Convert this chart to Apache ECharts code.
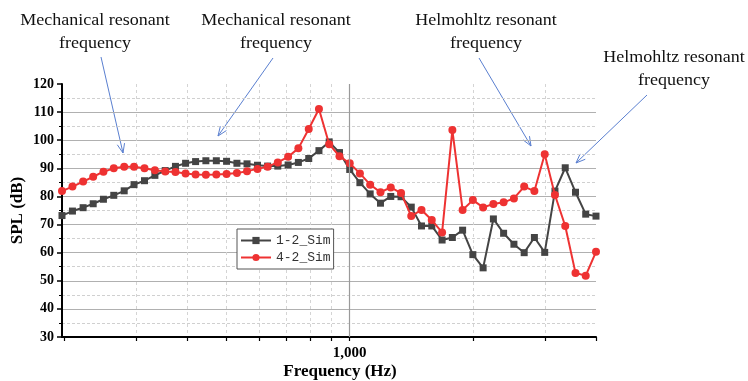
<!DOCTYPE html>
<html><head><meta charset="utf-8">
<script src="https://cdn.jsdelivr.net/npm/echarts@6/dist/echarts.min.js"></script>
<style>html,body{margin:0;padding:0;background:#fff}#c{width:748px;height:381px}</style>
</head><body><div id="c"></div>
<script>
// Frequencies (Hz), 1/12-octave points
const freqs = [198,210,223,236,250,265,281,297,315,334,354,375,397,420,445,472,500,530,561,595,
  630,667,707,749,794,841,891,944,1000,1059,1122,1189,1260,1335,1414,1498,1587,1682,1782,1888,
  2000,2119,2245,2378,2520,2670,2828,2997,3175,3364,3564,3775,4000];
// SPL (dB) of 1-2_Sim
const sim12 = [73.2,74.8,76.0,77.4,79.0,80.4,82.0,84.2,85.6,87.5,89.2,90.7,91.8,92.4,92.7,92.7,92.5,91.8,91.6,91.1,
  90.8,90.8,91.2,92.1,93.5,96.3,99.4,95.6,89.6,84.9,80.9,77.6,80.0,79.9,76.2,69.5,69.5,64.5,65.4,68.0,
  59.3,54.6,72.0,66.9,63.0,60.0,65.4,60.1,81.9,90.2,81.5,73.7,73.0];
// SPL (dB) of 4-2_Sim
const sim42 = [81.9,83.5,85.3,87.0,88.8,90.0,90.6,90.6,90.0,89.3,88.9,88.7,88.2,87.8,87.7,87.8,88.0,88.3,89.0,89.8,
  90.6,92.1,94.1,97.1,104.0,111.1,98.6,94.3,91.8,88.2,84.2,81.5,83.2,81.2,73.0,75.2,71.6,67.2,103.6,75.2,
  78.7,76.1,77.3,77.9,79.3,83.5,81.9,95.0,80.5,69.5,52.8,51.8,60.3];
const seriesNames = ['1-2_Sim','4-2_Sim'];
const xTickValues = [200,300,400,500,600,700,800,900,1000,2000,3000,4000];
const xLabelValues = [1000];
const yMin = 30, yMax = 120, yStep = 10;

const annotations = [
  {lines:['Mechanical resonant','frequency'], cx:95, y:21, from:[101,57], to:[123,153]},
  {lines:['Mechanical resonant','frequency'], cx:276, y:21, from:[273,58], to:[218,136]},
  {lines:['Helmohltz resonant','frequency'], cx:486, y:21, from:[479,58], to:[531,146]},
  {lines:['Helmohltz resonant','frequency'], cx:674, y:58, from:[647,95], to:[576,163]}
];

function thousands(v){ return String(Math.round(v)).replace(/\B(?=(\d{3})+(?!\d))/g, ','); }

const graphics = [];
const arrowColor = '#5a7fd0';
annotations.forEach(a => {
  a.lines.forEach((t, i) => {
    graphics.push({type:'text', x:a.cx, y:a.y + i*23, scaleX:1.06, silent:true,
      style:{text:t, font:'17px "Liberation Serif"', fill:'#111', textAlign:'center', textVerticalAlign:'middle'}});
  });
  const [x1,y1] = a.from, [x2,y2] = a.to;
  graphics.push({type:'line', silent:true, shape:{x1,y1,x2,y2}, style:{stroke:arrowColor, lineWidth:1}});
  const ang = Math.atan2(y2-y1, x2-x1), L = 10, w = 0.38;
  graphics.push({type:'polyline', silent:true,
    shape:{points:[[x2 - L*Math.cos(ang-w), y2 - L*Math.sin(ang-w)],[x2,y2],[x2 - L*Math.cos(ang+w), y2 - L*Math.sin(ang+w)]]},
    style:{stroke:arrowColor, lineWidth:1, fill:null}});
});

const serif = '"Liberation Serif","Times New Roman",serif';
const chart = echarts.init(document.getElementById('c'), null, {renderer:'canvas'});
chart.setOption({
  animation:false,
  backgroundColor:'#fff',
  grid:{left:62, right:152, top:84, bottom:44, containLabel:false, outerBoundsMode:'none'},
  legend:{
    data:seriesNames, orient:'vertical', left:237, top:229,
    padding:[5,3,5,3], itemGap:4, itemWidth:30, itemHeight:9,
    borderColor:'#555', borderWidth:1, backgroundColor:'#fff',
    textStyle:{fontFamily:'"Liberation Mono",monospace', fontSize:13, color:'#333'}
  },
  xAxis:{
    type:'log', logBase:10, min:198, max:4000,
    axisLine:{show:true, onZero:false, lineStyle:{color:'#000', width:2}},
    axisTick:{show:true, customValues:xTickValues, length:4, lineStyle:{color:'#000', width:1.2}},
    axisLabel:{customValues:xLabelValues, formatter:v=>thousands(v), fontFamily:serif, fontWeight:'bold', fontSize:15, color:'#000', margin:9},
    splitLine:{show:true, showMinLine:false, showMaxLine:false, lineStyle:{color:'#d4d4d4', type:[3,3], width:1}},
    name:'Frequency (Hz)', nameLocation:'middle', nameGap:26, nameMoveOverlap:false,
    nameTextStyle:{fontFamily:serif, fontWeight:'bold', fontSize:17, color:'#000', padding:[0,0,0,22]}
  },
  yAxis:{
    type:'value', min:yMin, max:yMax, interval:yStep,
    axisLine:{show:true, lineStyle:{color:'#000', width:2}},
    axisTick:{show:true, length:5, lineStyle:{color:'#000', width:1.5}},
    minorTick:{show:true, splitNumber:2, length:3, lineStyle:{color:'#000', width:1}},
    splitLine:{show:true, showMinLine:false, showMaxLine:false, lineStyle:{color:'#b0b0b0', width:1}},
    minorSplitLine:{show:true, lineStyle:{color:'#d0d0d0', width:1, type:[3,2]}},
    axisLabel:{fontFamily:serif, fontWeight:'bold', fontSize:14, color:'#000', margin:8},
    name:'SPL (dB)', nameLocation:'middle', nameGap:36, nameRotate:90, nameMoveOverlap:false,
    nameTextStyle:{fontFamily:serif, fontWeight:'bold', fontSize:17, color:'#000'}
  },
  series:[
    {name:seriesNames[0], type:'line', data:freqs.map((f,i)=>[f, sim12[i]]),
     symbol:'rect', symbolSize:7, color:'#444', lineStyle:{width:2, color:'#444'}, itemStyle:{color:'#444'},
     markLine:{silent:true, symbol:'none', label:{show:false}, lineStyle:{color:'#9a9a9a', type:'solid', width:1.2},
       data:[{xAxis:1000}]}, z:2},
    {name:seriesNames[1], type:'line', data:freqs.map((f,i)=>[f, sim42[i]]),
     symbol:'circle', symbolSize:8, color:'#ee3232', lineStyle:{width:2, color:'#ee3232'}, itemStyle:{color:'#ee3232'}, z:3}
  ],
  graphic:graphics
});
</script></body></html>
